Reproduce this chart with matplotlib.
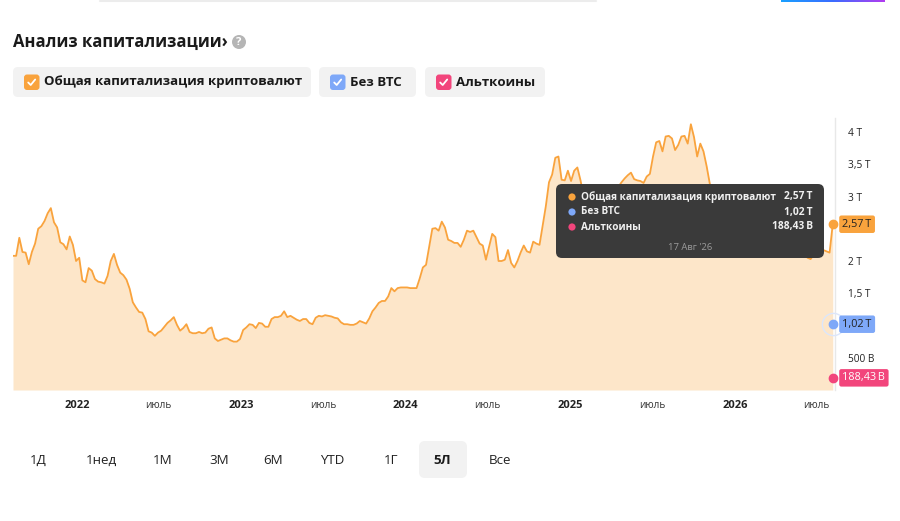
import matplotlib
matplotlib.use("Agg")
import matplotlib.pyplot as plt
from matplotlib.patches import FancyBboxPatch, Circle
import numpy as np
import pandas as pd

plt.rcParams['font.family'] = ['Open Sans', 'DejaVu Sans']

# weekly total market cap, trillions USD
start = "2021-08-12"
total_cap = [
    2.08, 2.08, 2.36, 2.14, 2.13, 1.95, 2.14, 2.27, 2.50, 2.54,
    2.62, 2.74, 2.82, 2.60, 2.52, 2.29, 2.26, 2.18, 2.38, 2.25,
    2.00, 2.05, 1.70, 1.67, 1.89, 1.85, 1.72, 1.68, 1.67, 1.65,
    1.77, 2.00, 2.11, 1.94, 1.82, 1.78, 1.71, 1.57, 1.36, 1.28,
    1.21, 1.20, 1.10, 0.91, 0.89, 0.84, 0.89, 0.92, 0.98, 1.04,
    1.08, 1.13, 1.01, 0.92, 0.96, 1.02, 0.90, 0.88, 0.88, 0.90,
    0.88, 0.89, 0.95, 0.97, 0.80, 0.76, 0.78, 0.80, 0.80, 0.77,
    0.75, 0.75, 0.79, 0.93, 0.97, 1.02, 1.01, 0.96, 1.04, 1.03,
    0.98, 0.98, 1.10, 1.13, 1.13, 1.15, 1.22, 1.13, 1.15, 1.12,
    1.09, 1.07, 1.10, 1.10, 1.04, 1.02, 1.12, 1.15, 1.14, 1.16,
    1.15, 1.14, 1.12, 1.11, 1.05, 1.02, 1.02, 1.01, 1.01, 1.03,
    1.07, 1.05, 1.03, 1.11, 1.22, 1.28, 1.35, 1.38, 1.38, 1.45,
    1.58, 1.53, 1.58, 1.59, 1.59, 1.59, 1.58, 1.58, 1.58, 1.73,
    1.90, 1.94, 2.22, 2.50, 2.51, 2.47, 2.61, 2.52, 2.33, 2.31,
    2.28, 2.28, 2.22, 2.33, 2.47, 2.45, 2.47, 2.37, 2.27, 2.24,
    2.02, 2.22, 2.42, 2.37, 2.00, 2.00, 2.02, 2.17, 1.97, 1.90,
    2.00, 2.13, 2.24, 2.15, 2.13, 2.30, 2.27, 2.25, 2.55, 2.85,
    3.22, 3.34, 3.60, 3.62, 3.26, 3.25, 3.40, 3.24, 3.40, 3.45,
    3.25, 3.00, 2.85, 2.90, 2.70, 2.80, 2.60, 2.75, 2.90, 2.85,
    3.00, 3.10, 3.15, 3.22, 3.28, 3.33, 3.37, 3.27, 3.25, 3.24,
    3.21, 3.31, 3.35, 3.62, 3.84, 3.86, 3.70, 3.93, 3.94, 3.90,
    3.72, 3.80, 3.93, 3.94, 3.82, 4.12, 3.92, 3.62, 3.82, 3.70,
    3.47, 3.20, 3.00, 2.85, 2.90, 2.70, 2.60, 2.70, 2.50, 2.40,
    2.50, 2.30, 2.40, 2.35, 2.20, 2.30, 2.25, 2.40, 2.30, 2.20,
    2.35, 2.30, 2.25, 2.15, 2.20, 2.30, 2.20, 2.10, 2.15, 2.20,
    2.10, 2.12, 2.05, 2.03, 2.10, 2.15, 2.12, 2.17, 2.15, 2.13,
    2.57,
]
dates = pd.date_range(start, periods=len(total_cap), freq="7D")

series_names = ["Общая капитализация криптовалют", "Без BTC", "Альткоины"]
series_colors = ["#f9a33d", "#7ea8f8", "#f2457c"]
last_values = [total_cap[-1], 1.02, 0.18843]
tooltip_date = "17 Авг '26"

# 1 T and 2,5 T sit under the value tags, so they are not shown
y_ticks = [0.5, 1.5, 2, 3, 3.5, 4]
y_labels = ["500 B", "1,5 T", "2 T", "3 T", "3,5 T", "4 T"]
x_ticks = ["2022-01-01", "2022-07-01", "2023-01-01", "2023-07-01", "2024-01-01",
           "2024-07-01", "2025-01-01", "2025-07-01", "2026-01-01", "2026-07-01"]
x_labels = ["2022", "июль", "2023", "июль", "2024", "июль", "2025", "июль", "2026", "июль"]
ranges = ["1Д", "1нед", "1М", "3М", "6М", "YTD", "1Г", "5Л", "Все"]
active_range = "5Л"


def fmt(v):
    if v >= 1:
        return f"{v:.2f}".replace(".", ",") + "\u2009T"
    return f"{v * 1000:.2f}".replace(".", ",") + "\u2009B"


W, H = 900, 521
fig = plt.figure(figsize=(W / 100, H / 100), dpi=100)
fig.patch.set_facecolor("white")

# main chart area in pixels
left, right, top, bottom = 13, 835, 118, 390
ax = fig.add_axes([left / W, 1 - bottom / H, (right - left) / W, (bottom - top) / H])
ax.set_zorder(1)

ax.fill_between(dates, total_cap, 0, color="#fde6c9", lw=0)
ax.plot(dates, total_cap, color="#f9a33d", lw=1.3, solid_joinstyle="round")

ax.set_xlim(pd.Timestamp(start), pd.Timestamp(start) + pd.Timedelta(days=1825))
ax.set_ylim(0, (bottom - top) / 64.5)

for s in ["top", "left", "bottom"]:
    ax.spines[s].set_visible(False)
ax.spines["right"].set_color("#e8e8e8")
ax.spines["right"].set_linewidth(1)

ax.yaxis.tick_right()
ax.set_yticks(y_ticks)
ax.set_yticklabels(y_labels, fontsize=7.3, color="#222222")
ax.tick_params(axis="y", length=0, pad=9)

ax.set_xticks(pd.to_datetime(x_ticks))
ax.set_xticklabels(x_labels)
ax.tick_params(axis="x", length=0, pad=7)
for t, lab in zip(ax.get_xticklabels(), x_labels):
    if lab.isdigit():
        t.set_fontweight("bold")
        t.set_fontsize(8)
        t.set_color("#222222")
    else:
        t.set_fontsize(7.2)
        t.set_color("#333333")

# end markers and value tags
ax.plot([dates[-1]], [last_values[1]], "o", ms=16, mfc="none", mec="#dce6fb", mew=1, clip_on=False, zorder=4)
for v, c, tc in zip(last_values, series_colors, ["#222222", "#222222", "white"]):
    ax.plot([dates[-1]], [v], "o", ms=6, color=c, clip_on=False, zorder=5)
    ax.annotate(fmt(v), xy=(dates[-1], v), xytext=(7, 0), textcoords="offset points",
                ha="left", va="center", fontsize=7.8, color=tc, zorder=6,
                bbox=dict(boxstyle="round,pad=0.3,rounding_size=0.2", fc=c, ec="none"),
                annotation_clip=False)

# overlay for page elements, pixel coordinates
ov = fig.add_axes([0, 0, 1, 1])
ov.set_zorder(2)
ov.axis("off")
ov.patch.set_alpha(0)

# top remnants of the page
ov.plot([100, 596], [0.8, 0.8], color="#ececec", lw=1.5, solid_capstyle="round")
grad = np.linspace(0, 1, 200).reshape(1, -1)
cmap = matplotlib.colors.LinearSegmentedColormap.from_list("g", ["#1aa0ff", "#3b6cff", "#b23cf0"])
ov.imshow(grad, extent=(781, 885, 2.2, 0), cmap=cmap, aspect="auto", zorder=3)
ov.set_xlim(0, W)
ov.set_ylim(H, 0)

# title
ov.text(13, 42, "Анализ капитализации›", fontsize=12, fontweight="bold", color="#1a1a1a", va="center", ha="left")
ov.add_patch(Circle((239, 42), 7, color="#b5b5b5", lw=0))
ov.text(239, 42.5, "?", fontsize=8, fontweight="bold", color="white", ha="center", va="center")

# legend buttons
legend_boxes = [(13, 311), (319, 416), (425, 545)]
for (x0, x1), name, c in zip(legend_boxes, series_names, series_colors):
    ov.add_patch(FancyBboxPatch((x0, 67), x1 - x0, 30, boxstyle="round,pad=0,rounding_size=5",
                                fc="#f2f2f2", ec="none"))
    ov.add_patch(FancyBboxPatch((x0 + 11, 74.5), 15.5, 15.5, boxstyle="round,pad=0,rounding_size=3",
                                fc=c, ec="none"))
    cx = x0 + 18.7
    ov.plot([cx - 3.5, cx - 1, cx + 3.5], [82.5, 85, 79.5], color="white", lw=1.3,
            solid_capstyle="round", solid_joinstyle="round")
    ov.text(x0 + 31, 82, name, fontsize=9.5, fontweight="bold", color="#1a1a1a", ha="left", va="center")

# tooltip
ov.add_patch(FancyBboxPatch((556, 184), 268, 74, boxstyle="round,pad=0,rounding_size=6",
                            fc="#3a3a3a", ec="none", zorder=5))
for i, (name, c, v) in enumerate(zip(series_names, series_colors, last_values)):
    yy = 197 + i * 15
    ov.add_patch(Circle((572, yy), 3.6, color=c, lw=0, zorder=6))
    ov.text(581, yy, name, fontsize=7.2, fontweight="bold", color="#f0f0f0", ha="left", va="center", zorder=6)
    ov.text(813, yy, fmt(v), fontsize=7.4, fontweight="bold", color="#f0f0f0", ha="right", va="center", zorder=6)
ov.text(690, 248, tooltip_date, fontsize=6.8, color="#9a9a9a", ha="center", va="center", zorder=6)

# range buttons
range_x = [38, 101, 163, 219, 273, 332, 391, 442, 500]
for rx, r in zip(range_x, ranges):
    if r == active_range:
        ov.add_patch(FancyBboxPatch((419, 441), 48, 37, boxstyle="round,pad=0,rounding_size=6",
                                    fc="#f2f2f2", ec="none"))
        ov.text(rx, 460, r, fontsize=9.6, fontweight="bold", color="#1a1a1a", ha="center", va="center")
    else:
        ov.text(rx, 460, r, fontsize=9.6, color="#222222", ha="center", va="center")

fig.savefig("out.png", dpi=100)
